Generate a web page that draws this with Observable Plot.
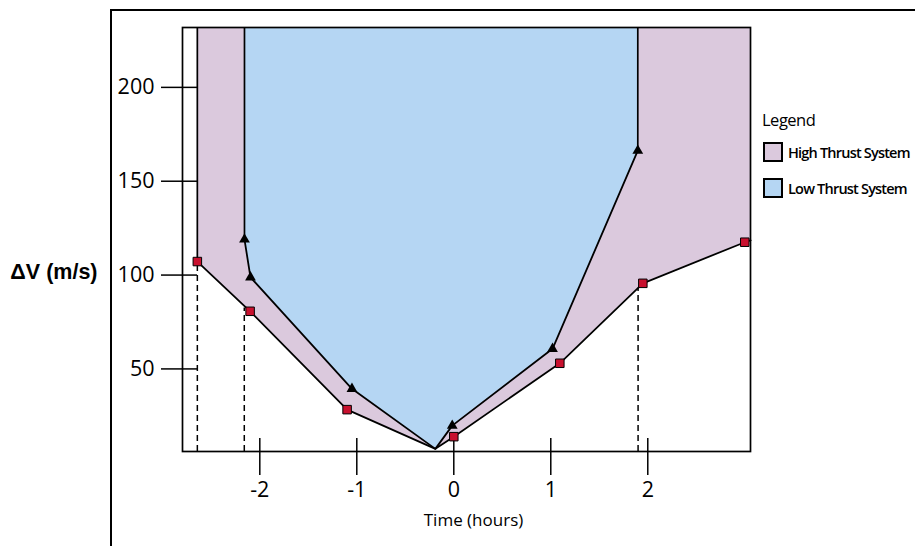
<!DOCTYPE html>
<html>
<head>
<meta charset="utf-8">
<script src="https://cdn.jsdelivr.net/npm/d3@7"></script>
<script src="https://cdn.jsdelivr.net/npm/@observablehq/plot@0.6"></script>
<style>
  html, body { margin: 0; padding: 0; background: #fff; }
  #wrap { position: relative; width: 915px; height: 546px; overflow: hidden; font-family: "Open Sans", sans-serif; }
  #border { position: absolute; left: 110px; top: 9px; width: 900px; height: 700px; border: 2px solid #000; box-sizing: border-box; }
  #wrap svg { position: absolute; left: 0; top: 0; overflow: visible; }
  #legend { position: absolute; left: 762px; top: 108px; color: #000; }
  #legend .head { font-size: 16.5px; letter-spacing: -0.5px; margin-bottom: 11px; }
  #legend .row { display: flex; align-items: center; height: 20px; margin-bottom: 16px; }
  #legend .sw { width: 20px; height: 20px; box-sizing: border-box; border: 2px solid #000; margin-right: 5px; margin-left: 1px; }
  #legend .lab { font-size: 14.5px; font-weight: 600; letter-spacing: -0.8px; white-space: nowrap; }
</style>
</head>
<body>
<div id="wrap">
  <div id="border"></div>
  <div id="chart"></div>
  <div id="legend"></div>
</div>
<script>
// Transfer time (hours) and ΔV (m/s) for the two propulsion options
const highTimes = [-2.644, -2.10, -1.10, 0.0, 1.093, 1.949, 3.0];
const highDV    = [107.2, 80.7, 28.3, 13.9, 53.0, 95.6, 117.5];
const lowTimes  = [-2.158, -2.096, -1.05, -0.016, 1.018, 1.897];
const lowDV     = [119.0, 98.8, 39.4, 19.8, 60.7, 166.3];

// Point where both boundaries meet, and where the high-thrust boundary leaves the plot
const meetPoint = {t: -0.19, dv: 7.4};
const highEdge  = {t: 3.06, dv: 118.5};

// Dashed guides below the window boundaries
const guideTimes = [-2.644, -2.16, 1.90];
const guideDV    = [107.2, 82.5, 93.0];

const xTicks = [-2, -1, 0, 1, 2];
const yTicks = [50, 100, 150, 200];

const seriesNames = ["High Thrust System", "Low Thrust System"];
const seriesColors = ["#dbc9dd", "#b5d6f3"];
const markerRed = "#c8102e";

const xDomain = [-2.797, 3.059];
const yDomain = [6.0, 231.9];
const yTop = yDomain[1], yBottom = yDomain[0];

const highPts = highTimes.map((t, i) => ({t, dv: highDV[i]}));
const lowPts  = lowTimes.map((t, i) => ({t, dv: lowDV[i]}));
const highLine = [...highPts, meetPoint, highEdge].sort((a, b) => a.t - b.t);
const lowLine  = [...lowPts, meetPoint].sort((a, b) => a.t - b.t);
const guides = guideTimes.map((t, i) => ({t, dv: guideDV[i]}));
// Left/right limits of each region, extended to the top of the plot
const regionEdges = [highPts[0], lowPts[0], lowPts[lowPts.length - 1]];

const chart = Plot.plot({
  width: 915,
  height: 546,
  marginLeft: 182,
  marginRight: 165,
  marginTop: 27,
  marginBottom: 95,
  x: {domain: xDomain},
  y: {domain: yDomain},
  style: {fontFamily: "'Open Sans', sans-serif", color: "#000", background: "transparent", overflow: "visible"},
  marks: [
    Plot.areaY(highLine, {x: "t", y1: "dv", y2: yTop, fill: seriesColors[0]}),
    Plot.areaY(lowLine, {x: "t", y1: "dv", y2: yTop, fill: seriesColors[1]}),
    Plot.ruleX(regionEdges, {x: "t", y1: "dv", y2: yTop, stroke: "#000", strokeWidth: 1.7}),
    Plot.ruleX(guides, {x: "t", y1: yBottom, y2: "dv", stroke: "#000", strokeWidth: 1.5, strokeDasharray: "6,4"}),
    Plot.line(highLine, {x: "t", y: "dv", stroke: "#000", strokeWidth: 1.8}),
    Plot.line(lowLine, {x: "t", y: "dv", stroke: "#000", strokeWidth: 1.8}),
    // inner portions of the tick marks
    Plot.tickY(yTicks, {y: d => d, insetRight: 553, stroke: "#000", strokeWidth: 1.5}),
    Plot.tickX(xTicks, {x: d => d, insetTop: 411, stroke: "#000", strokeWidth: 1.5}),
    Plot.axisY(yTicks, {tickSize: 21, tickPadding: 7, fontSize: 21.5, letterSpacing: -0.8, label: null, strokeWidth: 1.5}),
    Plot.axisX(xTicks, {tickSize: 24, tickPadding: 6, fontSize: 21.5, label: null, strokeWidth: 1.5, tickFormat: d => d < 0 ? "-" + Math.abs(d) : String(d)}),
    Plot.dot(highPts, {x: "t", y: "dv", symbol: "square", r: 4.8, fill: markerRed, stroke: "#000", strokeWidth: 1}),
    Plot.dot(lowPts, {x: "t", y: "dv", symbol: "triangle", r: 4, fill: "#000"}),
    Plot.frame({stroke: "#000", strokeWidth: 1.7}),
    Plot.text(["Time (hours)"], {frameAnchor: "bottom", dy: 74, dx: 7, fontSize: 17, letterSpacing: -0.5}),
    Plot.text(["ΔV (m/s)"], {frameAnchor: "left", dx: -85, dy: 33, textAnchor: "end", fontWeight: "bold", fontFamily: "'Liberation Sans', Arial, sans-serif", fontSize: 21.5})
  ]
});
document.getElementById("chart").appendChild(chart);

// Legend
const legend = document.getElementById("legend");
const head = document.createElement("div");
head.className = "head";
head.textContent = "Legend";
legend.appendChild(head);
seriesNames.forEach((name, i) => {
  const row = document.createElement("div");
  row.className = "row";
  const sw = document.createElement("div");
  sw.className = "sw";
  sw.style.background = seriesColors[i];
  const lab = document.createElement("span");
  lab.className = "lab";
  lab.textContent = name;
  row.appendChild(sw);
  row.appendChild(lab);
  legend.appendChild(row);
});
</script>
</body>
</html>
